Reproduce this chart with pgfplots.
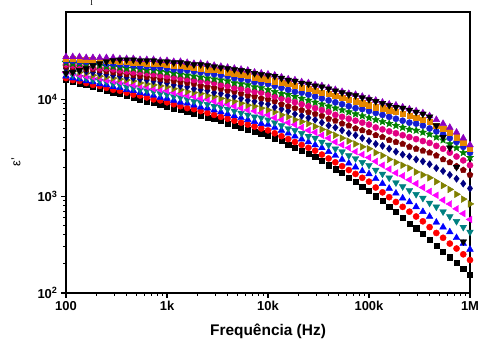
\documentclass[border=0pt]{standalone}
\usepackage{pgfplots}
\pgfplotsset{compat=1.18}
\usepackage{pgfplotstable}
\usepackage{fontspec}
\setmainfont{Liberation Sans}
\newfontfamily\seriffont{Liberation Serif}
\usetikzlibrary{plotmarks}

\definecolor{cteal}{RGB}{0,128,128}
\definecolor{cmag}{RGB}{255,0,255}
\definecolor{colive}{RGB}{128,128,0}
\definecolor{cnavy}{RGB}{0,0,128}
\definecolor{cwine}{RGB}{128,0,0}
\definecolor{cpink}{RGB}{225,0,130}
\definecolor{cgreen}{RGB}{0,128,0}
\definecolor{croyal}{RGB}{20,30,210}
\definecolor{corange}{RGB}{230,135,0}
\definecolor{cpurple}{RGB}{140,0,190}

\pgfdeclareplotmark{fstar}{%
  \pgfpathmoveto{\pgfpointpolar{90}{\pgfplotmarksize}}%
  \pgfpathlineto{\pgfpointpolar{126}{0.45\pgfplotmarksize}}%
  \pgfpathlineto{\pgfpointpolar{162}{\pgfplotmarksize}}%
  \pgfpathlineto{\pgfpointpolar{198}{0.45\pgfplotmarksize}}%
  \pgfpathlineto{\pgfpointpolar{234}{\pgfplotmarksize}}%
  \pgfpathlineto{\pgfpointpolar{270}{0.45\pgfplotmarksize}}%
  \pgfpathlineto{\pgfpointpolar{306}{\pgfplotmarksize}}%
  \pgfpathlineto{\pgfpointpolar{342}{0.45\pgfplotmarksize}}%
  \pgfpathlineto{\pgfpointpolar{18}{\pgfplotmarksize}}%
  \pgfpathlineto{\pgfpointpolar{54}{0.45\pgfplotmarksize}}%
  \pgfpathclose
  \pgfusepathqfillstroke}

\pgfplotstableread{
f s0 s1 s2 s3 s4 s5 s6 s7 s8 s9 s10 s11 s12 s13
100 15850 16600 17380 18200 19050 19950 20890 21880 22910 23990 25120 26300 27540 18620
116.6 15140 15850 16600 17780 18620 19500 20420 21380 22390 23440 25120 26300 27540 19050
135.9 14450 15490 16220 16980 17780 19050 19950 20890 22390 23440 24550 25700 27540 19950
158.5 14130 14790 15490 16600 17380 18620 19500 20420 21880 22910 24550 25700 26920 20890
184.8 13490 14130 15140 15850 16980 17780 19050 20420 21380 22910 23990 25700 26920 22390
215.4 12880 13800 14450 15490 16600 17380 18620 19950 20890 22390 23990 25120 26920 23440
251.2 12300 13180 14130 15140 15850 16980 18200 19500 20890 21880 23440 25120 26920 24550
292.9 11750 12590 13490 14450 15490 16600 17780 19050 20420 21880 23440 25120 26920 25400
341.5 11480 12300 13180 14130 15140 16220 17380 18620 19950 21380 22910 24550 26300 25700
398.1 10960 11750 12590 13490 14790 15850 16980 18200 19500 20890 22910 24550 26300 25700
464.2 10470 11220 12300 13180 14130 15490 16600 17780 19050 20890 22390 23990 26300 25700
541.2 10000 10960 11750 12590 13800 14790 16220 17380 19050 20420 21880 23990 25700 25120
631.0 9550 10470 11480 12300 13490 14450 15850 16980 18620 19950 21880 23440 25700 25120
735.6 9333 10000 10960 12020 12880 14130 15490 16600 18200 19950 21380 23440 25700 25120
857.7 8913 9772 10470 11480 12590 13800 15140 16220 17780 19500 21380 23440 25120 24550
1000 8511 9333 10230 11220 12300 13490 14790 15850 17380 19050 20890 22910 25120 24550
1166 8128 8913 9772 10720 11750 12880 14130 15490 16980 18620 20420 22390 24550 23990
1359 7762 8511 9333 10470 11480 12590 13800 15140 16600 18200 19950 22390 24550 23990
1585 7413 8128 9120 10000 10960 12020 13490 14790 16220 17780 19950 21880 23990 23440
1848 7079 7943 8710 9550 10720 11750 12880 14450 15850 17380 19500 21380 23440 22910
2154 6761 7586 8318 9333 10230 11480 12590 13800 15490 16980 19050 20890 23440 22910
2512 6457 7244 8128 8913 10000 10960 12300 13490 15140 16600 18620 20420 22910 22390
2929 6310 6918 7762 8511 9550 10720 11750 13180 14790 16220 18200 20420 22390 21880
3415 6026 6607 7413 8318 9120 10230 11480 12880 14130 15850 17780 19950 21880 21380
3981 5623 6310 7079 7943 8913 9772 10960 12300 13800 15490 17380 19050 21380 20890
4642 5370 6026 6761 7586 8511 9550 10720 12020 13180 14790 16600 18620 20890 20420
5412 5129 5754 6457 7244 8128 9120 10230 11480 12880 14450 16220 18200 20420 19950
6310 4898 5495 6166 6918 7762 8710 9772 10960 12300 14130 15850 17780 19950 19500
7356 4677 5248 5888 6607 7586 8511 9550 10720 12020 13490 15140 16980 19050 18620
8577 4467 5012 5623 6457 7244 8128 9120 10230 11750 13180 14790 16600 18620 18200
10000 4266 4786 5495 6166 6918 7762 8913 10000 11220 12590 14450 16220 18200 17780
11659 3981 4467 5129 5754 6457 7413 8318 9550 10720 12020 13800 15490 17780 17380
13594 3715 4169 4786 5370 6166 6918 7943 8913 10230 11480 13180 14790 16980 16600
15849 3388 3890 4467 5012 5754 6607 7586 8511 9772 11220 12590 14450 16220 15850
18478 3162 3631 4169 4786 5495 6166 7079 8128 9333 10720 12020 13800 15850 15490
21544 2951 3388 3890 4467 5129 5888 6761 7762 8913 10230 11750 13180 15140 14790
25119 2754 3162 3631 4169 4786 5623 6457 7413 8511 9772 11220 12880 14790 14450
29286 2570 2951 3388 3981 4571 5248 6166 7079 8128 9333 10720 12300 14130 13800
34145 2344 2692 3162 3631 4266 4898 5754 6761 7762 8913 10230 11750 13800 13490
39811 2089 2455 2884 3388 3981 4571 5370 6310 7413 8511 9772 11480 13180 12880
46416 1905 2239 2630 3090 3631 4266 5129 6026 6918 8128 9333 10960 12590 12300
54117 1738 2042 2399 2884 3388 3981 4786 5623 6607 7762 8913 10470 12020 11750
63096 1549 1862 2188 2630 3162 3715 4467 5370 6310 7413 8511 10000 11480 11220
73564 1413 1698 1995 2455 2884 3467 4266 5012 6026 7079 8128 9550 11220 10960
85770 1259 1549 1820 2239 2692 3236 3981 4786 5754 6761 7943 9120 10720 10470
100000 1148 1413 1698 2089 2512 3090 3715 4571 5495 6457 7586 8710 10230 10000
116591 1000 1230 1514 1862 2291 2818 3467 4266 5129 6166 7244 8318 9772 9550
135936 891 1096 1349 1698 2089 2630 3311 4074 4898 5888 6918 8128 9333 9120
158489 776 977 1202 1549 1905 2399 3090 3802 4677 5623 6607 7762 8913 8710
184785 692 871 1072 1380 1738 2239 2884 3631 4467 5370 6310 7413 8710 8318
215443 603 776 955 1259 1622 2089 2692 3467 4266 5129 6026 7079 8318 8128
251189 525 692 871 1148 1479 1950 2570 3236 4074 4898 5754 6761 7943 7762
292864 468 617 776 1047 1349 1778 2399 3090 3890 4786 5623 6457 7586 7413
341455 407 550 692 955 1230 1660 2291 2951 3715 4571 5370 6166 7244 7079
398107 355 479 617 851 1122 1549 2138 2818 3548 4365 5012 5888 6761 6607
464159 309 417 537 776 1023 1413 1950 2630 3311 4074 4677 5370 6166 5370
541170 269 372 479 692 912 1288 1820 2399 3090 3802 4365 5012 5623 4074
630957 234 324 427 617 832 1175 1660 2239 2818 3467 3981 4571 5129 3162
735642 204 288 372 550 741 1047 1514 2042 2570 3162 3631 4074 4571 1995
857696 178 251 324 479 661 933 1349 1862 2344 2818 3236 3548 3981 339
1000000 155 219 282 427 575 832 1202 1660 2089 2512 2818 3090 3388 nan
}\data

\begin{document}
\begin{tikzpicture}
\useasboundingbox (-66bp,-47bp) rectangle (413bp,293bp);
\begin{axis}[
  at={(0,0)}, anchor=south west,
  scale only axis, width=404bp, height=281bp,
  xmode=log, ymode=log,
  xmin=100, xmax=1000000, ymin=100, ymax=80000,
  xtick={100,1000,10000,100000,1000000},
  xticklabels={100,1k,10k,100k,1M},
  ytick={100,1000,10000},
  yticklabels={10\textsuperscript{2},10\textsuperscript{3},10\textsuperscript{4}},
  tick pos=left, tick align=outside,
  major tick length=5bp, minor tick length=3bp,
  tick style={black, line width=1.1pt},
  axis line style={black, line width=1.5pt},
  ticklabel style={font=\bfseries\fontsize{13}{13}\selectfont},
  xlabel={Frequência (Hz)},
  xlabel style={font=\bfseries\fontsize{15.5}{15.5}\selectfont, at={(axis description cs:0.5,0)}, anchor=base, yshift=-43bp},
  ylabel={ε'},
  ylabel style={font=\fontsize{13}{13}\selectfont, at={(axis description cs:-0.124,0.466)}, anchor=center},
  every axis plot/.append style={only marks},
]
\addplot[black, mark=square*, mark size=2.6] table[x=f,y=s0]{\data};
\addplot[red, mark=*, mark size=3.1] table[x=f,y=s1]{\data};
\addplot[blue, mark=triangle*, mark size=3.9] table[x=f,y=s2]{\data};
\addplot[cteal, mark=triangle*, mark size=3.9, mark options={rotate=180}] table[x=f,y=s3]{\data};
\addplot[cmag, mark=triangle*, mark size=3.9, mark options={rotate=90}] table[x=f,y=s4]{\data};
\addplot[colive, mark=triangle*, mark size=3.9, mark options={rotate=-90}] table[x=f,y=s5]{\data};
\addplot[cnavy, mark=diamond*, mark size=3.6] table[x=f,y=s6]{\data};
\addplot[cwine, mark=pentagon*, mark size=3.2] table[x=f,y=s7]{\data};
\addplot[cpink, mark=*, mark size=3.1] table[x=f,y=s8]{\data};
\addplot[cgreen, mark=fstar, mark size=3.9] table[x=f,y=s9]{\data};
\addplot[croyal, mark=*, mark size=3.1] table[x=f,y=s10]{\data};
\addplot[corange, mark=square*, mark size=2.7] table[x=f,y=s11]{\data};
\addplot[cpurple, mark=triangle*, mark size=3.9] table[x=f,y=s12]{\data};
\addplot[black, mark=triangle*, mark size=3.9, mark options={rotate=180}] table[x=f,y=s13]{\data};
\end{axis}
\node[font=\seriffont\fontsize{8}{8}\selectfont, anchor=base, inner sep=0pt] at (25.7bp,287.5bp) {I};
\end{tikzpicture}
\end{document}
